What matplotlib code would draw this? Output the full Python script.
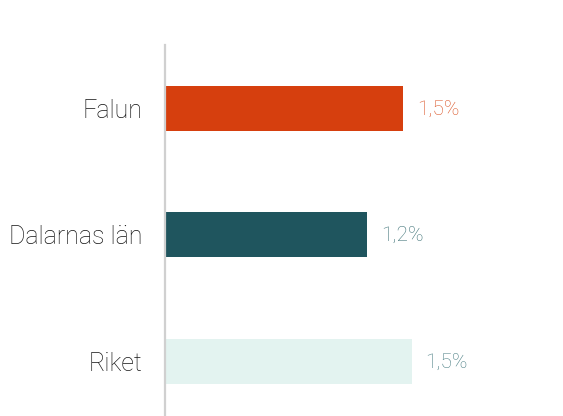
import matplotlib.pyplot as plt

categories = ['Falun', 'Dalarnas län', 'Riket']
values = [1.45, 1.23, 1.50]
labels = ['1,5%', '1,2%', '1,5%']
bar_colors = ['#D63F0E', '#1F555E', '#E3F3F0']
text_colors = ['#DB5527', '#3E7277', '#4B7F84']

plt.rcParams['font.family'] = ['Roboto', 'DejaVu Sans']

fig = plt.figure(figsize=(5.63, 4.16), dpi=100)
ax = fig.add_axes([165 / 563, 0, 1 - 165 / 563, 1 - 45 / 416])

y = range(len(categories))
ax.barh(y, values, height=0.356, color=bar_colors)
ax.set_ylim(2.43, -0.5)
ax.set_xlim(0, 2.42)

for i, (v, lab) in enumerate(zip(values, labels)):
    ax.annotate(lab, (v, i), xytext=(10, -0.5), textcoords='offset points',
                va='center', ha='left', fontsize=15, color=text_colors[i],
                fontweight='light')

ax.set_yticks(list(y))
ax.set_yticklabels(categories, fontsize=18, color='#151515', fontweight='light')
ax.tick_params(axis='y', length=0, pad=16)
ax.set_xticks([])
for s in ['top', 'right', 'bottom']:
    ax.spines[s].set_visible(False)
ax.spines['left'].set_color('#d0d0d0')
ax.spines['left'].set_linewidth(1.6)

fig.savefig('out.png', dpi=100)
